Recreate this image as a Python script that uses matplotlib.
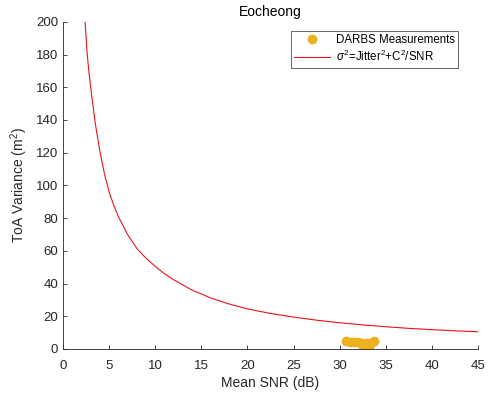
import matplotlib

matplotlib.use("Agg")

import matplotlib.pyplot as plt

# Measured points (mean SNR in dB, ToA variance in m^2)
meas_snr = [30.7, 31.1, 31.6, 32.0, 32.4, 32.6, 32.9, 33.2, 33.4, 33.7, 32.5, 33.0]
meas_var = [4.6, 4.4, 4.2, 4.0, 3.4, 1.2, 2.6, 1.4, 3.8, 4.9, 2.0, 3.4]

# Model curve
fit_snr = [2.4, 2.6, 2.8, 3.0, 3.5, 4.0, 4.5, 5.0, 5.5, 6.0, 7.0, 8.0, 9.0, 10.0, 11.0,
           12.0, 14.0, 16.0, 18.0, 20.0, 22.5, 25.0, 27.5, 30.0, 32.5, 35.0, 37.5,
           40.0, 42.5, 45.0]
fit_var = [200.0, 182.0, 170.0, 160.0, 138.0, 121.0, 107.0, 96.0, 88.0, 81.0, 70.0, 61.5,
           55.5, 50.5, 46.0, 42.3, 36.0, 31.2, 27.5, 24.5, 21.7, 19.5, 17.6, 16.0,
           14.7, 13.6, 12.6, 11.8, 11.1, 10.5]

plt.rcParams["font.family"] = ["Liberation Sans", "DejaVu Sans"]
plt.rcParams["mathtext.fontset"] = "custom"
plt.rcParams["mathtext.rm"] = "Liberation Sans"
plt.rcParams["mathtext.it"] = "Liberation Sans:italic"

axis_col = "#262626"

fig = plt.figure(figsize=(4.92, 3.97), dpi=100)
ax = fig.add_axes([0.128, 0.121, 0.8435, 0.824])

ax.plot(meas_snr, meas_var, "o", color="#EDB120", markersize=6, label="DARBS Measurements")
ax.plot(fit_snr, fit_var, "-", color="#E8141A", linewidth=0.8,
        label=r"$\sigma^2$=Jitter$^2$+C$^2$/SNR")

ax.set_xlim(0, 45)
ax.set_ylim(0, 200)
ax.set_xticks(range(0, 46, 5))
ax.set_yticks(range(0, 201, 20))
ax.spines["top"].set_visible(False)
ax.spines["right"].set_visible(False)
for s in ("left", "bottom"):
    ax.spines[s].set_color(axis_col)
    ax.spines[s].set_linewidth(0.6)
ax.tick_params(direction="in", length=3, width=0.6, colors=axis_col, labelsize=9.5)
ax.tick_params(axis="x", pad=8)

ax.set_xlabel("Mean SNR (dB)", fontsize=10, color=axis_col, labelpad=2.5)
ax.set_ylabel("ToA Variance (m$^2$)", fontsize=10, color=axis_col, labelpad=4)
ax.set_title("Eocheong", fontsize=10, color="black", pad=4)

leg = ax.legend(loc="upper right", bbox_to_anchor=(0.952, 0.973), fontsize=8.3,
                frameon=True, fancybox=False, edgecolor=axis_col,
                handlelength=3.1, handletextpad=0.5, borderpad=0.3, labelspacing=0.25,
                borderaxespad=0)
leg.get_frame().set_linewidth(0.6)

fig.savefig("out.png", dpi=100)
